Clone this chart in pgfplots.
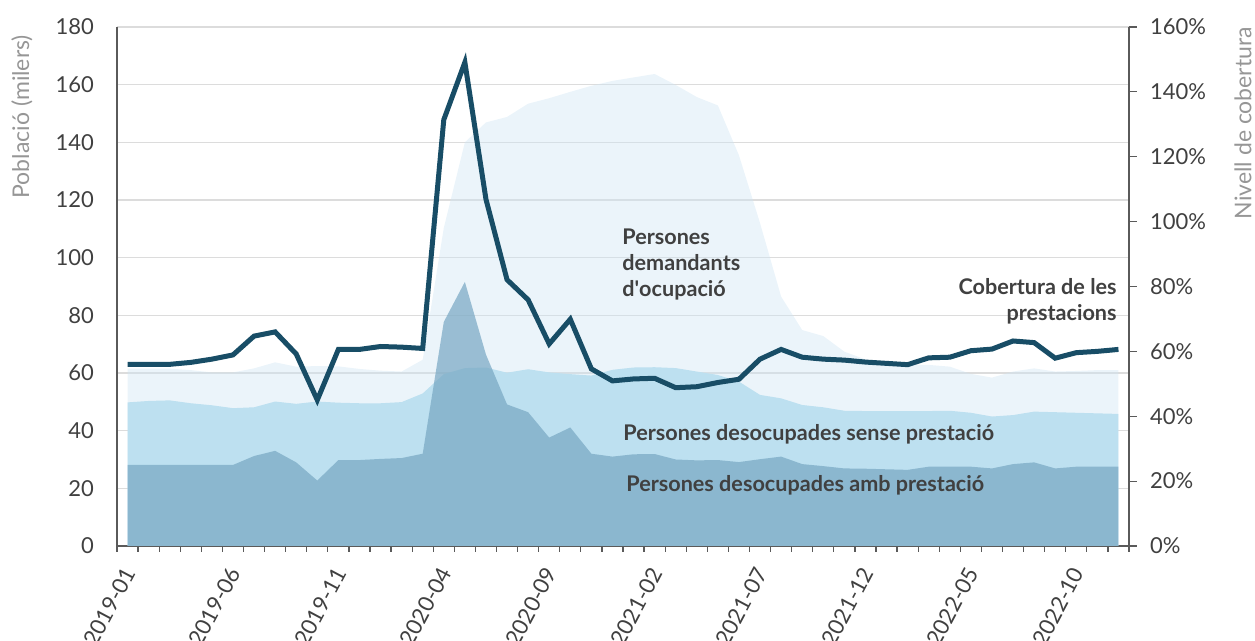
\documentclass[border=0pt]{standalone}
\usepackage{pgfplots}
\pgfplotsset{compat=1.18}
\usepackage{pgfplotstable}
\usepackage{fontspec}
\setmainfont{Lato}
\definecolor{lightA}{RGB}{205,228,243}
\definecolor{medA}{RGB}{189,224,240}
\definecolor{darkA}{RGB}{119,167,194}
\definecolor{lineC}{RGB}{24,77,102}
\definecolor{txt}{RGB}{64,64,64}
\definecolor{axtitle}{RGB}{150,150,150}
\definecolor{gridc}{RGB}{220,220,220}
\definecolor{axc}{RGB}{90,90,90}

\pgfplotstableread{
i amb tot dem cob
0 28.1 49.8 61.5 56.0
1 28.1 50.3 61.5 56.0
2 28.1 50.5 61.5 56.0
3 28.1 49.5 61.0 56.6
4 28.1 48.8 60.2 57.6
5 28.1 47.8 60.2 58.9
6 31.2 48.1 61.6 64.7
7 33.0 50.1 63.7 66.0
8 29.0 49.3 62.2 59.2
9 22.7 50.1 62.4 45.0
10 29.8 49.7 62.3 60.6
11 29.8 49.5 61.4 60.6
12 30.2 49.5 60.8 61.5
13 30.5 49.9 60.5 61.3
14 32.0 52.9 64.6 60.9
15 77.7 59.6 110.3 131.4
16 91.6 61.7 140.0 149.1
17 66.4 61.9 146.9 106.9
18 49.1 60.1 148.8 82.1
19 46.4 61.3 153.4 75.9
20 37.6 60.2 155.3 62.3
21 41.1 59.6 157.5 69.9
22 32.0 59.1 159.6 54.6
23 31.0 61.1 161.3 50.9
24 31.8 61.9 162.5 51.5
25 31.9 62.0 163.7 51.7
26 30.0 61.7 159.9 48.8
27 29.7 60.5 155.7 49.1
28 29.8 59.3 152.8 50.4
29 29.1 57.0 135.5 51.4
30 30.1 52.4 112.0 57.6
31 31.0 51.2 86.5 60.6
32 28.4 48.9 74.9 58.2
33 27.7 48.1 72.8 57.6
34 26.9 46.9 67.4 57.3
35 26.8 46.8 64.7 56.7
36 26.6 46.8 63.4 56.3
37 26.4 46.8 62.8 55.9
38 27.5 46.8 62.8 58.0
39 27.5 46.9 62.2 58.2
40 27.5 46.2 59.7 60.2
41 26.9 44.9 58.4 60.7
42 28.4 45.4 60.5 63.2
43 29.0 46.6 61.6 62.7
44 26.9 46.4 60.5 57.9
45 27.5 46.2 60.7 59.6
46 27.5 46.0 61.0 60.0
47 27.5 45.8 61.0 60.6
}\data

\begin{document}
\begin{tikzpicture}[font=\fontsize{11}{13}\selectfont]
\begin{axis}[
  at={(0,0)}, anchor=south west,
  scale only axis, width=506pt, height=259.5pt,
  xmin=-0.5, xmax=47.5, ymin=0, ymax=180,
  axis x line*=bottom, axis y line*=left,
  axis line style={axc, line width=0.6pt},
  xtick={0,5,...,45},
  xticklabels={2019-01,2019-06,2019-11,2020-04,2020-09,2021-02,2021-07,2021-12,2022-05,2022-10},
  minor xtick={-0.5,0.5,...,47.5},
  major tick length=0pt, minor tick length=3pt, tick align=outside,
  tick style={axc, line width=0.6pt},
  xticklabel style={xshift=2.5pt, yshift=-8.5pt, rotate=62, anchor=east, text=txt, font=\fontsize{11}{13}\selectfont},
  ytick={0,20,...,180},
  ymajorgrids, grid style={gridc, line width=0.75pt},
  yticklabel style={text=txt, xshift=-8pt, font=\fontsize{11}{13}\selectfont},
  /pgf/number format/assume math mode=true,
]
\addplot[draw=none, fill=lightA, fill opacity=0.4] table[x=i,y=dem]{\data} \closedcycle;
\addplot[draw=none, fill=medA] table[x=i,y=tot]{\data} \closedcycle;
\addplot[draw=none, fill=darkA, fill opacity=0.7] table[x=i,y=amb]{\data} \closedcycle;
\end{axis}
\begin{axis}[
  at={(0,0)}, anchor=south west,
  scale only axis, width=506pt, height=259.5pt,
  xmin=-0.5, xmax=47.5, ymin=0, ymax=160,
  axis x line=none, axis y line*=right,
  axis line style={axc, line width=0.6pt},
  ytick={0,20,...,160},
  yticklabel={\pgfmathprintnumber[assume math mode=true]{\tick}\%},
  tick align=outside, major tick length=4pt, tick style={axc, line width=0.6pt},
  yticklabel style={text=txt, xshift=3pt, font=\fontsize{11}{13}\selectfont},
]
\addplot[lineC, line width=2.5pt] table[x=i,y=cob]{\data};
\end{axis}
\node[anchor=north west, align=left, inner sep=0pt, text=txt, font=\fontsize{10.8}{13}\selectfont\bfseries] at (252.5pt,159pt) {Persones\\demandants\\d\textquotesingle ocupació};
\node[anchor=north east, align=right, inner sep=0pt, text=txt, font=\fontsize{10.8}{13}\selectfont\bfseries] at (500pt,134pt) {Cobertura de les\\prestacions};
\node[anchor=west, inner sep=0pt, text=txt, font=\fontsize{10.8}{13}\selectfont\bfseries] at (253pt,56pt) {Persones desocupades sense prestació};
\node[anchor=west, inner sep=0pt, text=txt, font=\fontsize{10.8}{13}\selectfont\bfseries] at (254.5pt,30.5pt) {Persones desocupades amb prestació};
\node[rotate=90, anchor=east, text=axtitle, font=\fontsize{11.5}{13}\selectfont] at (-47.5pt,259pt) {Població (milers)};
\node[rotate=90, anchor=east, text=axtitle, font=\fontsize{11.5}{13}\selectfont] at (563pt,263pt) {Nivell de cobertura};
\pgfresetboundingbox
\path[use as bounding box] (-58.5pt,-47.5pt) rectangle (569pt,273pt);
\end{tikzpicture}
\end{document}
